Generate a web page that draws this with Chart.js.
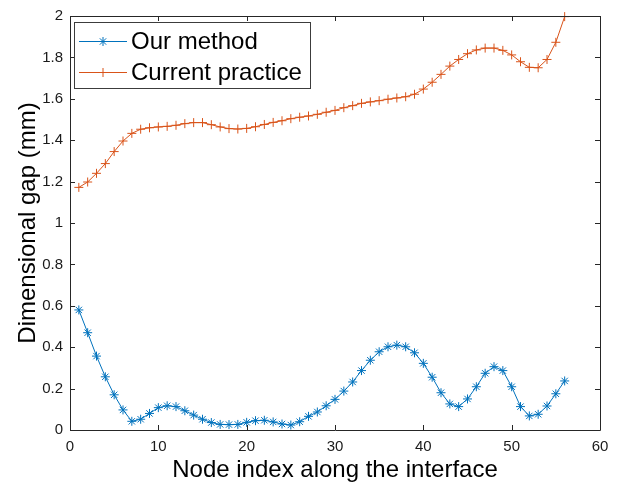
<!DOCTYPE html>
<html>
<head>
<meta charset="utf-8">
<script src="https://cdn.jsdelivr.net/npm/chart.js@4/dist/chart.umd.min.js"></script>
<style>
	html, body { margin: 0; padding: 0; background: #ffffff; }
	#wrap { width: 621px; height: 489px; }
</style>
</head>
<body>
<div id="wrap"><canvas id="gapChart" width="621" height="489"></canvas></div>
<script>
// **********************************************************************
// 				Dimensional gap chart
// **********************************************************************

const nodeIndex = [1, 2, 3, 4, 5, 6, 7, 8, 9, 10, 11, 12, 13, 14, 15, 16, 17, 18, 19, 20,
	21, 22, 23, 24, 25, 26, 27, 28, 29, 30, 31, 32, 33, 34, 35, 36, 37, 38, 39, 40,
	41, 42, 43, 44, 45, 46, 47, 48, 49, 50, 51, 52, 53, 54, 55, 56];

const ourMethod = [0.58, 0.47, 0.357, 0.257, 0.17, 0.097, 0.042, 0.052, 0.08, 0.108,
	0.117, 0.113, 0.093, 0.072, 0.052, 0.036, 0.027, 0.026, 0.027, 0.037,
	0.045, 0.047, 0.039, 0.029, 0.024, 0.04, 0.066, 0.087, 0.117, 0.148,
	0.188, 0.232, 0.287, 0.337, 0.378, 0.402, 0.41, 0.402, 0.373, 0.322,
	0.255, 0.18, 0.126, 0.113, 0.15, 0.209, 0.274, 0.306, 0.287, 0.209,
	0.113, 0.068, 0.076, 0.116, 0.175, 0.237];

const currentPractice = [1.172, 1.198, 1.24, 1.287, 1.345, 1.396, 1.433, 1.453, 1.46, 1.464,
	1.467, 1.472, 1.48, 1.485, 1.485, 1.475, 1.464, 1.456, 1.454, 1.457,
	1.465, 1.476, 1.486, 1.494, 1.504, 1.511, 1.517, 1.525, 1.535, 1.544,
	1.557, 1.567, 1.578, 1.585, 1.591, 1.598, 1.604, 1.61, 1.622, 1.647,
	1.68, 1.718, 1.758, 1.79, 1.818, 1.836, 1.845, 1.845, 1.834, 1.812,
	1.779, 1.752, 1.75, 1.79, 1.873, 1.997];

const seriesNames = ['Our method', 'Current practice'];
const xTicks = [0, 10, 20, 30, 40, 50, 60];
const yTicks = [0, 0.2, 0.4, 0.6, 0.8, 1, 1.2, 1.4, 1.6, 1.8, 2];

const FONT = "'Liberation Sans', Arial, sans-serif";
const AXIS_COLOR = '#262626';

function toPoints(xs, ys) {
	return xs.map((x, i) => ({x: x, y: ys[i]}));
}

// box round the plot with inward ticks on all four sides
const boxPlugin = {
	id: 'boxPlugin',
	afterDatasetsDraw(chart) {
		const ctx = chart.ctx;
		const {left, right, top, bottom} = chart.chartArea;
		const xs = chart.scales.x;
		const ys = chart.scales.y;
		const tl = 5;
		ctx.save();
		ctx.strokeStyle = AXIS_COLOR;
		ctx.lineWidth = 1;
		ctx.beginPath();
		ctx.rect(Math.round(left) + 0.5, Math.round(top) + 0.5, Math.round(right - left), Math.round(bottom - top));
		xTicks.forEach(v => {
			const px = Math.round(xs.getPixelForValue(v)) + 0.5;
			ctx.moveTo(px, bottom); ctx.lineTo(px, bottom - tl);
			ctx.moveTo(px, top); ctx.lineTo(px, top + tl);
		});
		yTicks.forEach(v => {
			const py = Math.round(ys.getPixelForValue(v)) + 0.5;
			ctx.moveTo(left, py); ctx.lineTo(left + tl, py);
			ctx.moveTo(right, py); ctx.lineTo(right - tl, py);
		});
		ctx.stroke();
		ctx.restore();
	}
};

// legend box in the upper left corner, line + marker like the original
const legendPlugin = {
	id: 'legendPlugin',
	afterDraw(chart) {
		const ctx = chart.ctx;
		const bx = 74.5, by = 22.5, bw = 236, bh = 66;
		ctx.save();
		ctx.fillStyle = '#ffffff';
		ctx.fillRect(bx, by, bw, bh);
		ctx.strokeStyle = '#3c3c3c';
		ctx.lineWidth = 1;
		ctx.strokeRect(bx, by, bw, bh);

		const rows = [41, 72];
		chart.data.datasets.forEach((ds, i) => {
			const y = rows[i];
			ctx.strokeStyle = ds.borderColor;
			ctx.lineWidth = 1;
			ctx.beginPath();
			ctx.moveTo(79, y + 0.5);
			ctx.lineTo(127, y + 0.5);
			ctx.stroke();
			Chart.helpers.drawPoint(ctx, {pointStyle: ds.pointStyle, radius: ds.pointRadius, rotation: 0, borderWidth: 1}, 103, y + 0.5);
			ctx.fillStyle = '#000000';
			ctx.font = '24px ' + FONT;
			ctx.textBaseline = 'middle';
			ctx.textAlign = 'left';
			ctx.fillText(ds.label, 131, y + 1);
		});
		ctx.restore();
	}
};

const ctx = document.getElementById('gapChart').getContext('2d');

new Chart(ctx, {
	type: 'line',
	data: {
		datasets: [{
			label: seriesNames[0],
			data: toPoints(nodeIndex, ourMethod),
			borderColor: '#0072BD',
			backgroundColor: '#0072BD',
			borderWidth: 1,
			pointStyle: 'star',
			pointRadius: 4.5,
			pointBorderWidth: 1,
			pointBorderColor: '#0072BD',
			tension: 0,
			fill: false,
			clip: false
		}, {
			label: seriesNames[1],
			data: toPoints(nodeIndex, currentPractice),
			borderColor: '#D95319',
			backgroundColor: '#D95319',
			borderWidth: 1,
			pointStyle: 'cross',
			pointRadius: 4.5,
			pointBorderWidth: 1,
			pointBorderColor: '#D95319',
			tension: 0,
			fill: false,
			clip: false
		}]
	},
	options: {
		responsive: false,
		devicePixelRatio: 1,
		animation: false,
		layout: {
			padding: {top: 16, right: 21, left: 0, bottom: 0}
		},
		plugins: {
			legend: {display: false},
			tooltip: {enabled: false}
		},
		scales: {
			x: {
				type: 'linear',
				min: 0,
				max: 60,
				afterFit: function(scale) { scale.height = 59; },
				afterBuildTicks: function(scale) { scale.ticks = xTicks.map(v => ({value: v})); },
				grid: {display: false, drawTicks: false},
				border: {display: false},
				ticks: {
					autoSkip: false,
					maxRotation: 0,
					padding: 8,
					color: '#1a1a1a',
					font: {family: FONT, size: 15}
				},
				title: {
					display: true,
					text: 'Node index along the interface',
					color: '#000000',
					padding: {top: 0, bottom: 4},
					font: {family: FONT, size: 24}
				}
			},
			y: {
				type: 'linear',
				min: 0,
				max: 2,
				afterFit: function(scale) { scale.width = 70; },
				afterBuildTicks: function(scale) { scale.ticks = yTicks.map(v => ({value: v})); },
				grid: {display: false, drawTicks: false},
				border: {display: false},
				ticks: {
					autoSkip: false,
					padding: 7,
					color: '#1a1a1a',
					font: {family: FONT, size: 15},
					callback: function(value) { return String(+value.toFixed(1)); }
				},
				title: {
					display: true,
					text: 'Dimensional gap (mm)',
					color: '#000000',
					padding: {top: 14, bottom: 0},
					font: {family: FONT, size: 24}
				}
			}
		}
	},
	plugins: [boxPlugin, legendPlugin]
});
</script>
</body>
</html>
